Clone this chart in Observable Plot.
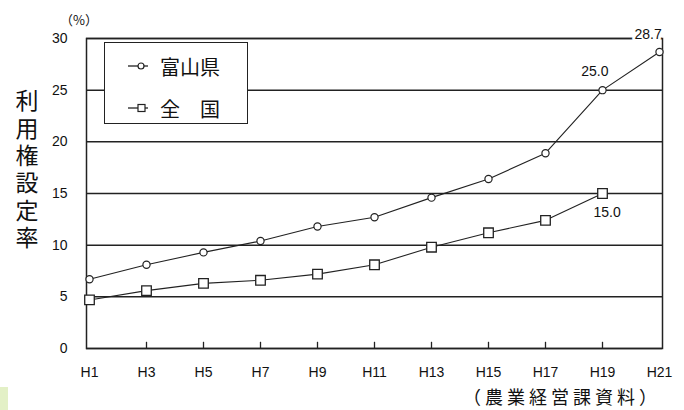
<!DOCTYPE html>
<html><head><meta charset="utf-8">
<script src="https://cdn.jsdelivr.net/npm/d3@7"></script>
<script src="https://cdn.jsdelivr.net/npm/@observablehq/plot@0.6"></script>
<style>
body{margin:0;background:#fff;}
#wrap{position:relative;width:684px;height:410px;overflow:hidden;font-family:"Liberation Sans",Arial,sans-serif;}
.jp{font-family:"Noto Sans CJK JP",sans-serif;position:absolute;color:#111;line-height:1;white-space:nowrap;}
#legend{position:absolute;left:104px;top:42px;width:142px;height:80px;border:1.5px solid #222;background:#fff;}
#legend .row{position:absolute;left:22px;height:24px;display:flex;align-items:center;font-family:"Noto Sans CJK JP",sans-serif;font-size:20px;color:#111;}
#ylab{left:15px;top:89px;font-size:23px;writing-mode:vertical-rl;letter-spacing:4.4px;}
#unit{left:60px;top:13px;font-size:13px;}
#cap{left:463px;top:387px;font-size:18px;letter-spacing:4px;}
#green{position:absolute;left:0;top:387px;width:8px;height:23px;background:#e3f0c6;}
</style></head>
<body><div id="wrap"></div>
<script>
const years = ["H1","H3","H5","H7","H9","H11","H13","H15","H17","H19","H21"];
const toyama = [6.7, 8.1, 9.3, 10.4, 11.8, 12.7, 14.6, 16.4, 18.9, 25.0, 28.7];
const zenkoku = [4.7, 5.6, 6.3, 6.6, 7.2, 8.1, 9.8, 11.2, 12.4, 15.0];
const yTicks = [0, 5, 10, 15, 20, 25, 30];
const seriesNames = ["富山県", "全　国"];
const yTitle = "利用権設定率";
const unitText = "（%）";
const caption = "（農業経営課資料）";
const labelYear = ["H21", "H19", "H19"];
const labelVal = [28.7, 25.0, 15.0];
const labelText = ["28.7", "25.0", "15.0"];

const tData = years.map((y, i) => ({year: y, v: toyama[i]}));
const zData = zenkoku.map((v, i) => ({year: years[i], v}));
const ink = "#222";

const chart = Plot.plot({
  width: 684, height: 410,
  marginLeft: 86, marginRight: 22, marginTop: 38, marginBottom: 62,
  style: {fontFamily: "'Liberation Sans', Arial, sans-serif", fontSize: "13px", color: "#111", background: "white"},
  x: {type: "point", domain: years, padding: 0},
  y: {domain: [0, 30], ticks: yTicks},
  marks: [
    Plot.ruleY(yTicks, {stroke: ink, strokeWidth: 1.5}),
    Plot.frame({stroke: ink, strokeWidth: 1.5}),
    Plot.ruleX(years.slice(1, -1), {x: d => d, y1: 0, y2: 0.6, stroke: ink, strokeWidth: 1.3}),
    Plot.axisY({ticks: yTicks, tickSize: 0, tickPadding: 19, label: null, fontSize: 14}),
    Plot.axisX({tickSize: 0, tickPadding: 19, label: null, fontSize: 14}),
    Plot.line(tData, {x: "year", y: "v", stroke: ink, strokeWidth: 1.1}),
    Plot.line(zData, {x: "year", y: "v", stroke: ink, strokeWidth: 1.1}),
    Plot.dot(tData, {x: "year", y: "v", r: 3.6, fill: "white", stroke: ink, strokeWidth: 1.2}),
    Plot.dot(zData, {x: "year", y: "v", symbol: "square", r: 5.4, fill: "white", stroke: ink, strokeWidth: 1.3}),
    Plot.text([0], {x: () => labelYear[0], y: () => labelVal[0], text: () => labelText[0], textAnchor: "start", dx: -25, dy: -17, fontSize: 14, fill: "#111", stroke: "white", strokeWidth: 6}),
    Plot.text([1], {x: () => labelYear[1], y: () => labelVal[1], text: () => labelText[1], textAnchor: "end", dx: 6, dy: -19, fontSize: 14, fill: "#111"}),
    Plot.text([2], {x: () => labelYear[2], y: () => labelVal[2], text: () => labelText[2], textAnchor: "start", dx: -9, dy: 19, fontSize: 14, fill: "#111"})
  ]
});
const wrap = document.getElementById("wrap");
wrap.appendChild(chart);
chart.style.position = "absolute"; chart.style.left = "0"; chart.style.top = "0";

const legend = document.createElement("div");
legend.id = "legend";
legend.innerHTML =
  `<div class="row" style="top:11px"><svg width="22" height="12" style="margin-right:11px"><line x1="1" x2="21" y1="6" y2="6" stroke="${ink}" stroke-width="1.3"/><circle cx="14" cy="6" r="3" fill="white" stroke="${ink}" stroke-width="1.2"/></svg>${seriesNames[0]}</div>` +
  `<div class="row" style="top:53px"><svg width="22" height="12" style="margin-right:11px"><line x1="1" x2="21" y1="6" y2="6" stroke="${ink}" stroke-width="1.3"/><rect x="11" y="2.5" width="7" height="7" fill="white" stroke="${ink}" stroke-width="1.2"/></svg>${seriesNames[1]}</div>`;
wrap.appendChild(legend);

const ylab = document.createElement("div");
ylab.className = "jp"; ylab.id = "ylab"; ylab.textContent = yTitle;
wrap.appendChild(ylab);

const unit = document.createElement("div");
unit.className = "jp"; unit.id = "unit"; unit.textContent = unitText;
wrap.appendChild(unit);

const cap = document.createElement("div");
cap.className = "jp"; cap.id = "cap"; cap.textContent = caption;
wrap.appendChild(cap);

const g = document.createElement("div"); g.id = "green"; wrap.appendChild(g);
</script></body></html>
